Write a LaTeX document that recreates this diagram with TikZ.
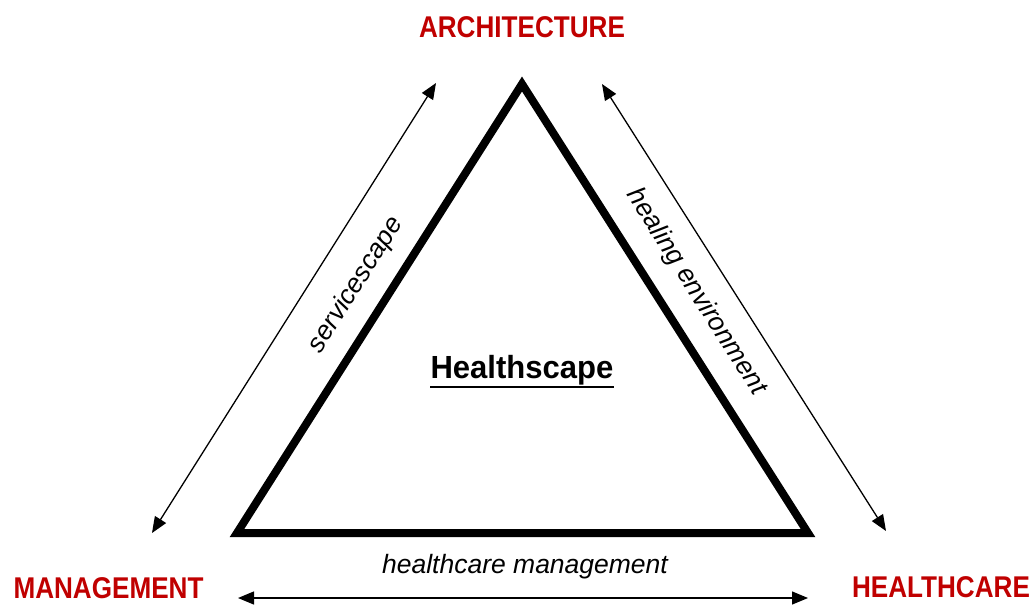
\documentclass[tikz,border=0pt]{standalone}
\usepackage{fontspec}
\setmainfont{Liberation Sans}
\newfontfamily\redfont{Liberation Sans}[FakeStretch=0.87]
\newfontfamily\hsfont{Liberation Sans}[FakeStretch=0.97]
\usetikzlibrary{arrows.meta}
\definecolor{labred}{HTML}{C00000}
\begin{document}
\begin{tikzpicture}[x=1pt,y=-1pt,
  corner/.style={inner sep=0pt,anchor=base,text=labred,font=\redfont\bfseries\fontsize{30}{36}\selectfont},
  rel/.style={inner sep=0pt,font=\itshape\fontsize{26.5}{32}\selectfont},
  tri/.style={line width=8pt,line join=miter},
  link/.style={line width=1.3pt,{Triangle[length=16pt,width=13pt]}-{Triangle[length=16pt,width=13pt]}},
  title/.style={inner sep=0pt,anchor=base,font=\hsfont\bfseries\fontsize{32}{38}\selectfont}]
\useasboundingbox (0,0) rectangle (1035,605);
\fill[white] (0,0) rectangle (1035,605);
% labels
\node[corner] (arch) at (522,37) {ARCHITECTURE};
\node[corner] (mgmt) at (108.5,598) {MANAGEMENT};
\node[corner] (hc) at (941,597) {HEALTHCARE};
% triangle
\coordinate (A) at (522,84);
\coordinate (M) at (237,533);
\coordinate (H) at (808,533);
\draw[tri] (A) -- (M) -- (H) -- cycle;
% title
\node[title] (hs) at (522,378) {Healthscape};
\draw[line width=2.5pt] ([yshift=-9pt]hs.base west) -- ([yshift=-9pt]hs.base east);
% arrows
\coordinate (la) at (436,83);
\coordinate (lm) at (152,533);
\coordinate (ra) at (602,84);
\coordinate (rh) at (886,531);
\coordinate (bm) at (238,598);
\coordinate (bh) at (808,598);
\draw[link] (lm) -- (la);
\draw[link] (ra) -- (rh);
\draw[link] (bm) -- (bh);
% relation labels
\node[rel,rotate=57.7] (svc) at (356,285) {servicescape};
\node[rel,rotate=-57.6] (heal) at (696,292) {healing environment};
\node[rel,anchor=base] (hm) at (525,573) {healthcare management};
\end{tikzpicture}
\end{document}
